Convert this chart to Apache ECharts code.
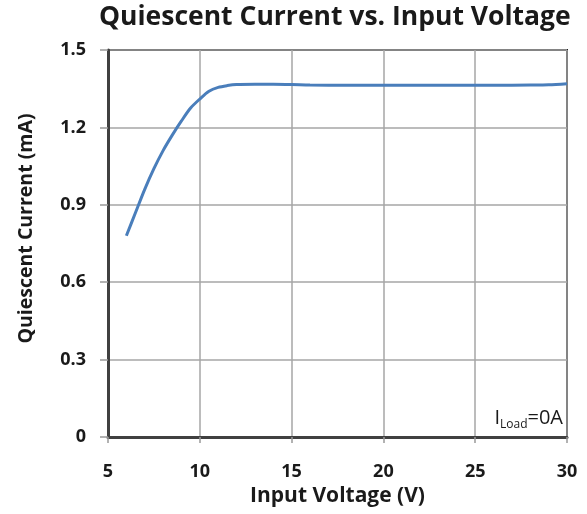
<!DOCTYPE html>
<html>
<head>
<meta charset="utf-8">
<script src="https://cdn.jsdelivr.net/npm/echarts@6/dist/echarts.min.js"></script>
<style>
html,body{margin:0;padding:0;background:#fff;}
#chart{width:587px;height:514px;}
</style>
</head>
<body>
<div id="chart"></div>
<script>
var voltage = [6, 6.5, 7, 7.5, 8, 8.5, 9, 9.5, 10, 10.5, 11, 11.5, 12, 13, 14, 15, 16, 18, 20, 22, 24, 26, 28, 29, 30];
var current = [0.78, 0.87, 0.96, 1.04, 1.11, 1.17, 1.225, 1.275, 1.31, 1.34, 1.355, 1.362, 1.366, 1.367, 1.367, 1.366, 1.364, 1.363, 1.363, 1.363, 1.363, 1.363, 1.364, 1.365, 1.369];
var xTicks = {min: 5, max: 30, interval: 5};
var yTicks = {min: 0, max: 1.5, interval: 0.3};

var FONT = 'Open Sans';
var chart = echarts.init(document.getElementById('chart'));
var pts = voltage.map(function (v, i) { return [v, current[i]]; });
chart.setOption({
  backgroundColor: '#fff',
  animation: false,
  title: {
    text: 'Quiescent Current vs. Input Voltage',
    left: 94, top: -1,
    textStyle: {fontFamily: FONT, fontWeight: 'bold', fontSize: 26.5, color: '#1a1a1a'}
  },
  grid: {left: 108, right: 20, top: 50, bottom: 77, show: true, borderColor: '#222', borderWidth: 2, backgroundColor: 'transparent'},
  xAxis: {
    type: 'value', min: xTicks.min, max: xTicks.max, interval: xTicks.interval,
    name: 'Input Voltage (V)', nameLocation: 'middle', nameGap: 48,
    nameTextStyle: {fontFamily: FONT, fontWeight: 'bold', fontSize: 21, color: '#1a1a1a'},
    axisLine: {show: true, lineStyle: {color: '#404040', width: 3}},
    axisTick: {show: true, length: 6, lineStyle: {color: '#999', width: 1.5}},
    axisLabel: {margin: 26, fontFamily: FONT, fontWeight: 'bold', fontSize: 18, color: '#1a1a1a'},
    splitLine: {show: true, lineStyle: {color: '#a6a6a6', width: 1.5}}
  },
  yAxis: {
    type: 'value', min: yTicks.min, max: yTicks.max, interval: yTicks.interval,
    name: 'Quiescent Current (mA)', nameLocation: 'middle', nameGap: 72,
    nameTextStyle: {fontFamily: FONT, fontWeight: 'bold', fontSize: 19.5, color: '#1a1a1a', padding: [0, 0, 0, 30]},
    axisLine: {show: true, lineStyle: {color: '#404040', width: 3}},
    axisTick: {show: true, length: 8, lineStyle: {color: '#999', width: 1.5}},
    axisLabel: {margin: 22, fontFamily: FONT, fontWeight: 'bold', fontSize: 18, color: '#1a1a1a',
      formatter: function (v) { return v === 0 ? '0' : v.toFixed(1); }},
    splitLine: {show: true, lineStyle: {color: '#a6a6a6', width: 1.5}}
  },
  graphic: [{
    type: 'text', right: 24, bottom: 83,
    style: {
      text: '{a|I}{b|Load}{a|=0A}',
      rich: {
        a: {fontFamily: FONT, fontSize: 20, fontWeight: 'normal', fill: '#1a1a1a', verticalAlign: 'bottom'},
        b: {fontFamily: FONT, fontSize: 12, fontWeight: 'normal', fill: '#1a1a1a', verticalAlign: 'bottom', padding: [0, 0, -3, 0]}
      }
    }
  }],
  series: [{
    type: 'line', data: pts, smooth: 0.3, showSymbol: false,
    lineStyle: {color: '#4a7ebb', width: 3}
  }]
});
</script>
</body>
</html>
